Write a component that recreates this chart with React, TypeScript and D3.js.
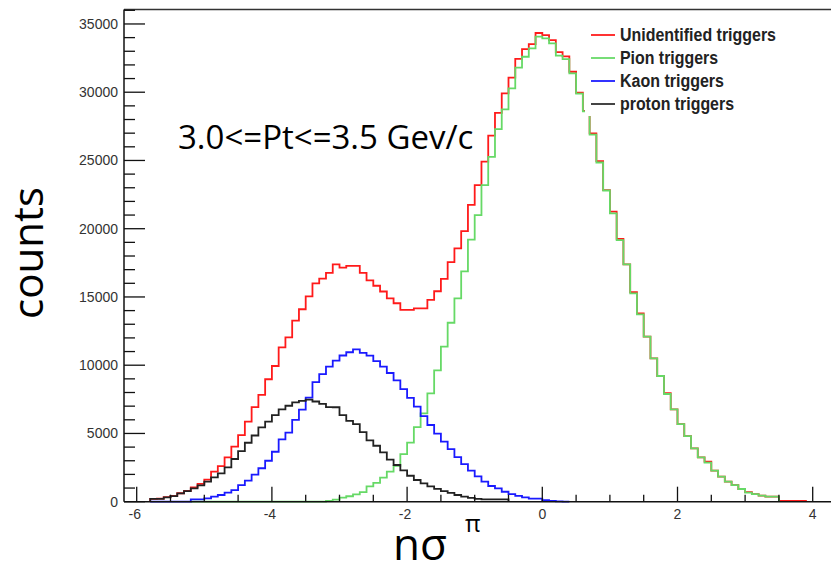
import React from 'react';
import * as d3 from 'd3';

const BIN_WIDTH = 0.1;

const unidentifiedStart = -5.8;
const unidentified = [
  200, 230, 330, 420, 620, 800, 1050, 1300, 1620, 2200, 2610, 3250, 4030, 4880, 5860, 6930, 7820,
  8970, 9940, 11310, 12040, 13260, 14100, 15050, 16000, 16350, 16760, 17390, 17150, 17270, 17270,
  16760, 16220, 15820, 15400, 14900, 14540, 14050, 14050, 14170, 14170, 14780, 15420, 16320, 17550,
  18560, 19820, 21740, 23200, 24910, 26820, 28490, 29920, 31070, 32440, 33150, 33530, 34340, 34190,
  33820, 32930, 32620, 31500, 29960, 28640, 26980, 24950, 22830, 21250, 19260, 17390, 15360, 13800,
  12090, 10500, 9210, 7960, 6760, 5690, 4810, 3910, 3250, 2930, 2270, 1830, 1470, 1220, 930, 700,
  560, 440, 370, 370, 60, 60, 60, 60,
];

const pionStart = -5.2;
const pion = [
  0, 0, 0, 0, 0, 0, 0, 0, 0, 0, 0, 0, 0, 0, 0, 0, 0, 0, 0, 0,
  60, 150, 300, 400, 540, 700, 1130, 1380, 1770, 2200, 2620, 3480, 4330, 5470, 6470, 7940, 9620,
  11360, 13110, 14900, 16880, 19200, 21000, 23200, 25270, 27300, 28740, 30280, 31800, 32600, 33210,
  34070, 33950, 33580, 32680, 32430, 31380, 29900, 28600, 26900, 24850, 22800, 21120, 19170, 17390,
  15260, 13720, 12090, 10500, 9210, 7890, 6760, 5690, 4810, 3910, 3250, 2860, 2270, 1830, 1470,
  1220, 930, 660, 560, 440, 370, 370,
];

const kaonStart = -5.8;
const kaon = [
  0, 0, 0, 0, 0, 0, 170, 170, 240, 370, 490, 660, 850, 1220, 1540, 1990, 2450, 3000, 3660, 4570,
  5060, 5990, 6740, 7620, 8760, 9350, 9890, 10340, 10710, 10950, 11160, 10900, 10700, 10300, 9890,
  9430, 8890, 8250, 7600, 6960, 6270, 5620, 4990, 4400, 3850, 3260, 2750, 2270, 1850, 1470, 1150,
  980, 730, 560, 420, 320, 220, 220, 120, 60, 30, 0,
];

const protonStart = -5.8;
const proton = [
  200, 200, 320, 415, 610, 780, 980, 1200, 1470, 1780, 2080, 2520, 3130, 3710, 4320, 4850, 5450,
  5860, 6350, 6770, 7030, 7280, 7390, 7480, 7340, 7160, 6930, 6920, 6350, 5920, 5680, 5100, 4500,
  4100, 3620, 3080, 2690, 2300, 1900, 1590, 1340, 1120, 940, 770, 640, 490, 370, 280, 200, 170,
  170, 170, 170,
];

const xMajorTicks = [-6, -4, -2, 0, 2, 4];
const xMinorTicks = d3.range(-6, 4.01, 0.5);
const yMajorTicks = [0, 5000, 10000, 15000, 20000, 25000, 30000, 35000];
const yMinorTicks = d3.range(0, 36001, 1000);

const legendLabels = ['Unidentified triggers', 'Pion triggers', 'Kaon triggers', 'proton triggers'];
const legendWidths = [156, 98, 104, 114];
const seriesColors = ['#ff1a1a', '#66d966', '#1a1aff', '#222222'];
const legendColors = ['#ff3333', '#77dd77', '#3333ff', '#444444'];

const annotation = '3.0<=Pt<=3.5 Gev/c';

const x = d3.scaleLinear().domain([-6, 4]).range([136.7, 812.7]);
const y = d3.scaleLinear().domain([0, 36060]).range([501.7, 9.5]);

const FRAME_LEFT = 124;
const FRAME_RIGHT = 860;

function histPath(start: number, values: number[]): string {
  const pts: [number, number][] = [[start, 0]];
  values.forEach((v, i) => {
    const x0 = start + i * BIN_WIDTH;
    pts.push([x0, v]);
    pts.push([x0 + BIN_WIDTH, v]);
  });
  pts.push([start + values.length * BIN_WIDTH, 0]);
  return d3.line<[number, number]>().x((d) => x(d[0])).y((d) => y(d[1]))(pts) || '';
}

export default function App() {
  const series = [
    { start: unidentifiedStart, values: unidentified },
    { start: pionStart, values: pion },
    { start: kaonStart, values: kaon },
    { start: protonStart, values: proton },
  ];
  const y0 = y(0);
  return (
    <svg width={831} height={569} style={{ position: 'absolute', left: 0, top: 0, background: '#fff' }}>
      <rect x={0} y={0} width={831} height={569} fill="#fff" />
      {series.map((s, i) => (
        <path key={i} d={histPath(s.start, s.values)} fill="none" stroke={seriesColors[i]} strokeWidth={1.8} />
      ))}
      {/* legend box */}
      <rect x={585} y={14} width={260} height={102} fill="#fff" />
      {legendLabels.map((lab, i) => {
        const cy = 35 + i * 23;
        return (
          <g key={lab}>
            <line x1={591} x2={615} y1={cy} y2={cy} stroke={legendColors[i]} strokeWidth={2} />
            <text x={620} y={cy + 6} fontFamily="Liberation Sans, Arial, sans-serif" fontWeight="bold" fontSize={18}
              fill="#222" textLength={legendWidths[i]} lengthAdjust="spacingAndGlyphs">{lab}</text>
          </g>
        );
      })}
      {/* frame */}
      <line x1={FRAME_LEFT} x2={FRAME_RIGHT} y1={y(36060)} y2={y(36060)} stroke="#333" strokeWidth={1.3} />
      <line x1={FRAME_LEFT} x2={FRAME_RIGHT} y1={y0} y2={y0} stroke="#111" strokeWidth={1.5} />
      <line x1={FRAME_LEFT} x2={FRAME_LEFT} y1={y(36060)} y2={y0} stroke="#111" strokeWidth={1.5} />
      {/* y ticks */}
      {yMinorTicks.map((t) => (
        <line key={'ym' + t} x1={FRAME_LEFT} x2={FRAME_LEFT + (t % 5000 === 0 ? 21 : 11)} y1={y(t)} y2={y(t)} stroke="#111" strokeWidth={1.3} />
      ))}
      {yMajorTicks.map((t) => (
        <text key={'yl' + t} x={118} y={y(t)} dy="0.35em" textAnchor="end" fontFamily="Liberation Sans, Arial, sans-serif" fontSize={14} fill="#333">{t}</text>
      ))}
      {/* x ticks */}
      {xMinorTicks.map((t) => (
        <line key={'xm' + t} x1={x(t)} x2={x(t)} y1={y0} y2={y0 - (Math.abs(t % 2) < 1e-6 ? 15 : 7)} stroke="#111" strokeWidth={1.3} />
      ))}
      {xMajorTicks.map((t) => (
        <text key={'xl' + t} x={x(t) - (t < 0 ? 2 : 0)} y={519} textAnchor="middle" fontFamily="Liberation Sans, Arial, sans-serif" fontSize={14} fill="#333">{t}</text>
      ))}
      {/* annotation */}
      <text x={178} y={148.5} fontFamily="Open Sans, sans-serif" fontSize={33} fill="#000">{annotation}</text>
      {/* axis titles */}
      <text transform="translate(43,253) rotate(-90)" textAnchor="middle" fontFamily="Open Sans, sans-serif" fontSize={42} fill="#000">counts</text>
      <text x={393} y={560} fontFamily="Open Sans, sans-serif" fontSize={44} fill="#000">nσ</text>
      <text x={465} y={532} fontFamily="Open Sans, sans-serif" fontSize={24} fill="#000">π</text>
    </svg>
  );
}
